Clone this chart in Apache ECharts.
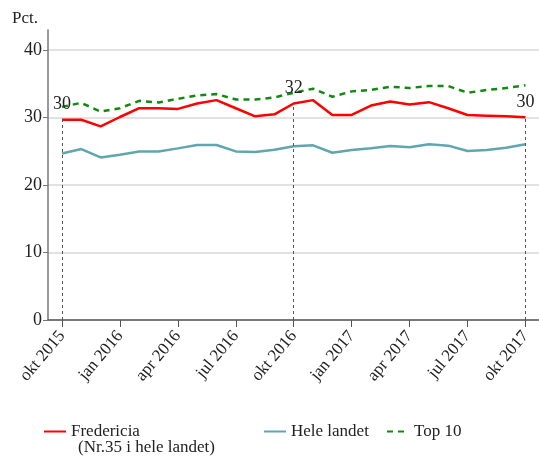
<!DOCTYPE html>
<html>
<head>
<meta charset="utf-8">
<script src="https://cdn.jsdelivr.net/npm/echarts@6/dist/echarts.min.js"></script>
<style>html,body{margin:0;padding:0;background:#fff}#c{width:539px;height:457px}</style>
</head>
<body>
<div id="c"></div>
<script>
const months = ['okt 2015','nov 2015','dec 2015','jan 2016','feb 2016','mar 2016','apr 2016','maj 2016','jun 2016','jul 2016','aug 2016','sep 2016','okt 2016','nov 2016','dec 2016','jan 2017','feb 2017','mar 2017','apr 2017','maj 2017','jun 2017','jul 2017','aug 2017','sep 2017','okt 2017'];
const tickIdx = [0,3,6,9,12,15,18,21,24];
const yTicks = [0,10,20,30,40];
const fredericia = [29.7,29.7,28.7,30.1,31.4,31.4,31.3,32.1,32.6,31.4,30.2,30.5,32.1,32.6,30.4,30.4,31.8,32.4,31.95,32.3,31.4,30.4,30.3,30.2,30.05];
const heleLandet = [24.7,25.35,24.1,24.5,25.0,25.0,25.45,25.95,25.95,25.0,24.9,25.25,25.75,25.9,24.8,25.2,25.45,25.8,25.6,26.05,25.85,25.05,25.2,25.55,26.05];
const top10 = [31.6,32.2,30.9,31.4,32.5,32.25,32.8,33.3,33.5,32.7,32.7,33.0,33.7,34.3,33.1,33.9,34.1,34.6,34.4,34.7,34.7,33.7,34.1,34.4,34.8];
const markIdx = [0,12,24];
const names = ['Fredericia','Hele landet','Top 10'];
const colors = ['#ff0000','#5fa6ae','#108a10'];

const font = 'Liberation Serif';
const toPairs = arr => arr.map((v,i)=>[i,v]);
const chart = echarts.init(document.getElementById('c'), null, {renderer:'canvas'});
const legendBase = {orient:'horizontal', itemWidth:22, itemHeight:12, itemGap:10,
  itemStyle:{opacity:0},
  textStyle:{fontFamily:font, fontSize:17, color:'#222'}, selectedMode:false};
chart.setOption({
  animation:false,
  grid:{left:48, right:0, top:30, bottom:137},
  xAxis:{type:'value', min:-0.725, max:24.7,
    axisLine:{onZero:false, lineStyle:{color:'#555', width:1.5}},
    axisTick:{customValues:tickIdx, length:7, lineStyle:{color:'#555'}},
    axisLabel:{customValues:tickIdx, rotate:50, fontFamily:font, fontSize:17, color:'#222', margin:13,
      formatter:v=>months[Math.round(v)]},
    splitLine:{show:false}},
  yAxis:{type:'value', min:0, max:43, name:'Pct.', nameLocation:'end', nameGap:3,
    nameTextStyle:{fontFamily:font, fontSize:17, color:'#222', align:'right', padding:[0,10,0,0]},
    axisLine:{show:true, onZero:false, lineStyle:{color:'#777', width:1.5}},
    axisTick:{show:true, customValues:yTicks, length:5, lineStyle:{color:'#777'}},
    axisLabel:{customValues:yTicks, fontFamily:font, fontSize:18, color:'#222', margin:6},
    splitLine:{show:true, lineStyle:{color:'#d9d9d9', width:1.5}}},
  legend:[
    Object.assign({}, legendBase, {data:[names[0]], left:38, top:418}),
    Object.assign({}, legendBase, {data:[names[1]], left:258, top:418}),
    Object.assign({}, legendBase, {data:[names[2]], left:381, top:418})
  ],
  graphic:[{type:'text', left:78, top:439, style:{text:'(Nr.35 i hele landet)', font:'17px "Liberation Serif"', fill:'#222'}}],
  series:[
    {name:names[0], type:'line', data:toPairs(fredericia), symbol:'none', z:4,
      lineStyle:{color:colors[0], width:2.5}, itemStyle:{color:colors[0]},
      markLine:{silent:true, symbol:['none','none'],
        lineStyle:{color:'#555', type:[3,3], width:1},
        label:{show:true, position:'end', distance:6, fontFamily:font, fontSize:18, color:'#222',
          formatter:p=>String(Math.round(fredericia[p.data.idx !== undefined ? p.data.idx : 0]))},
        data:markIdx.map(i=>[{coord:[i,0], idx:i},{coord:[i,fredericia[i]], idx:i}])}},
    {name:names[1], type:'line', data:toPairs(heleLandet), symbol:'none', z:3,
      lineStyle:{color:colors[1], width:2.5}, itemStyle:{color:colors[1]}},
    {name:names[2], type:'line', data:toPairs(top10), symbol:'none', z:3,
      lineStyle:{color:colors[2], width:2.5, type:[6,5]}, itemStyle:{color:colors[2]}}
  ]
});
</script>
</body>
</html>
